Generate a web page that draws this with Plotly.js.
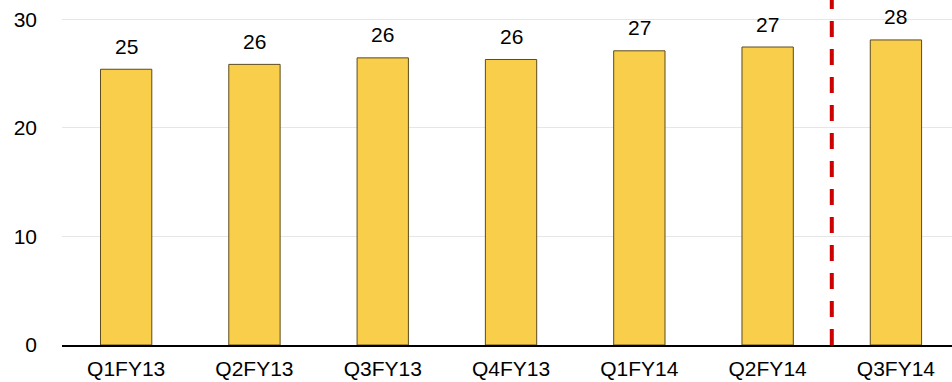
<!DOCTYPE html>
<html>
<head>
<meta charset="utf-8">
<script src="https://cdn.plot.ly/plotly-3.0.1.min.js"></script>
<style>
  html, body { margin: 0; padding: 0; background: #ffffff; }
  #chart { width: 952px; height: 382px; }
</style>
</head>
<body>
<div id="chart"></div>
<script>
// Quarterly values, FY13 – FY14
const quarters = ['Q1FY13', 'Q2FY13', 'Q3FY13', 'Q4FY13', 'Q1FY14', 'Q2FY14', 'Q3FY14'];
const values = [25.4, 25.85, 26.45, 26.3, 27.1, 27.45, 28.1];
const valueLabels = ['25', '26', '26', '26', '27', '27', '28'];
const yTicks = [0, 10, 20, 30];

const FONT = 'Liberation Sans, Arial, sans-serif';

const bars = {
  type: 'bar',
  x: quarters,
  y: values,
  width: 0.4,
  marker: {
    color: '#F8CE4B',
    line: { color: '#5C4A1E', width: 1 }
  },
  hoverinfo: 'x+y'
};

// Value labels above each bar
const labels = quarters.map((q, i) => ({
  x: q,
  y: values[i],
  xref: 'x',
  yref: 'y',
  text: valueLabels[i],
  showarrow: false,
  yanchor: 'middle',
  yshift: 23,
  font: { family: FONT, size: 21, color: '#000000' }
}));

const layout = {
  width: 952,
  height: 382,
  margin: { l: 62, r: 0, t: 0, b: 37 },
  paper_bgcolor: '#ffffff',
  plot_bgcolor: '#ffffff',
  showlegend: false,
  bargap: 0.6,
  xaxis: {
    type: 'category',
    categoryorder: 'array',
    categoryarray: quarters,
    range: [-0.5, 6.437],
    showgrid: false,
    showline: true,
    linecolor: '#000000',
    linewidth: 2,
    ticks: '',
    ticklabelstandoff: 4,
    tickfont: { family: FONT, size: 21, color: '#000000' },
    fixedrange: true
  },
  yaxis: {
    range: [0, 31.78],
    tickvals: yTicks,
    ticktext: yTicks.map(String),
    showgrid: true,
    gridcolor: '#E6E6E6',
    gridwidth: 1,
    zeroline: false,
    showline: false,
    ticks: '',
    ticklabelstandoff: 24,
    tickfont: { family: FONT, size: 21, color: '#000000' },
    fixedrange: true
  },
  // Divider between reported and latest quarter
  shapes: [{
    type: 'line',
    xref: 'x',
    yref: 'paper',
    x0: 5.5, x1: 5.5,
    y0: 0, y1: 1,
    line: { color: '#CC0000', width: 4, dash: '16px,12px' }
  }],
  annotations: labels
};

Plotly.newPlot('chart', [bars], layout, { displayModeBar: false, staticPlot: true });
</script>
</body>
</html>
